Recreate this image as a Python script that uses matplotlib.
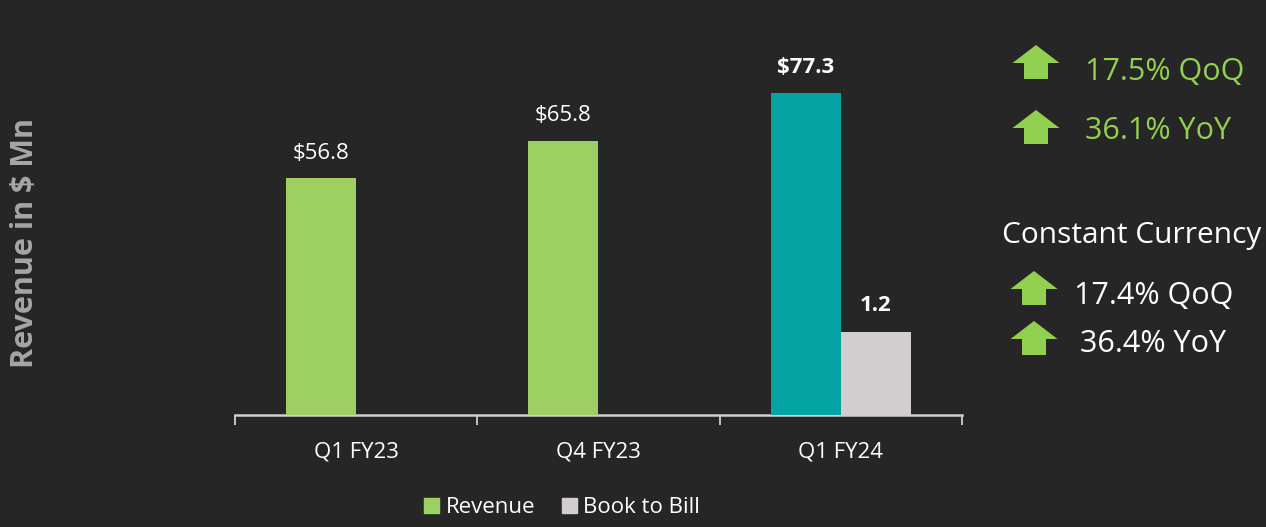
import numpy as np
import matplotlib.pyplot as plt
from matplotlib.patches import Polygon, Patch

plt.rcParams['font.family'] = ['Open Sans', 'DejaVu Sans']

# data
quarters = ['Q1 FY23', 'Q4 FY23', 'Q1 FY24']
revenue = [56.8, 65.8, 77.3]
revenue_labels = ['$56.8', '$65.8', '$77.3']
book_to_bill = [None, None, 1.2]
growth_rows = ['17.5% QoQ', '36.1% YoY']
cc_rows = ['17.4% QoQ', '36.4% YoY']

BG = '#262626'
GREEN = '#9dcf62'
TEAL = '#05a3a3'
GREY = '#d0cecf'
ARROW = '#92d050'
AXIS = '#d0d0d0'

fig = plt.figure(figsize=(12.66, 5.27), dpi=100, facecolor=BG)
W, H = 1266, 527

# main axes in pixel placement
left, right, base, top = 235, 962, 415, 40
ax = fig.add_axes([left / W, (H - base) / H, (right - left) / W, (base - top) / H])
ax.set_facecolor(BG)
ax2 = ax.twinx()

x = np.arange(len(quarters))
w = 0.289
rev_colors = [GREEN, GREEN, TEAL]
rbars = ax.bar(x - w / 2, revenue, width=w, color=rev_colors, zorder=3)
bx = [i for i, v in enumerate(book_to_bill) if v is not None]
bv = [v for v in book_to_bill if v is not None]
bbars = ax2.bar(np.array(bx) + w / 2, bv, width=w, color=GREY, zorder=3)

ax.set_xlim(-0.5, 2.5)
ax.set_ylim(0, 90)
ax2.set_ylim(0, 5.42)

for i, (b, lab) in enumerate(zip(rbars, revenue_labels)):
    bold = i == len(revenue) - 1
    ax.annotate(lab, (b.get_x() + b.get_width() / 2, b.get_height()),
                xytext=(0, 18), textcoords='offset points', ha='center', va='center',
                color='white', fontsize=16, fontweight='bold' if bold else 'normal')
for b, v in zip(bbars, bv):
    ax2.annotate(f'{v:.1f}', (b.get_x() + b.get_width() / 2, b.get_height()),
                 xytext=(0, 19), textcoords='offset points', ha='center', va='center',
                 color='white', fontsize=16, fontweight='bold')

for a in (ax, ax2):
    for s in ('top', 'right', 'left'):
        a.spines[s].set_visible(False)
    a.spines['bottom'].set_color(AXIS)
    a.spines['bottom'].set_linewidth(1.8)
    a.set_yticks([])
ax2.spines['bottom'].set_visible(False)

ax.set_xticks([-0.5, 0.5, 1.5, 2.5])
ax.set_xticklabels([])
ax.set_xticks(x, minor=True)
ax.set_xticklabels(quarters, minor=True)
ax.tick_params(axis='x', which='major', direction='out', length=7, width=1.3, color=AXIS)
ax.tick_params(axis='x', which='minor', length=0, pad=19, labelsize=16, labelcolor='white')
ax2.tick_params(axis='x', length=0, labelbottom=False)

fig.text(25 / W, 1 - 243 / H, 'Revenue in $ Mn', rotation=90, ha='center', va='center',
         color='#a6a6a6', fontsize=22, fontweight='bold')

handles = [Patch(color=GREEN, label='Revenue'), Patch(color=GREY, label='Book to Bill')]
fig.legend(handles=handles, loc='center', bbox_to_anchor=(562 / W, 1 - 507.5 / H), ncol=2,
           frameon=False, fontsize=16, labelcolor='white', handlelength=0.68, handleheight=0.68,
           handletextpad=0.3, columnspacing=1.2, borderpad=0)

# overlay for the growth call-outs
ov = fig.add_axes([0, 0, 1, 1], facecolor='none')
ov.set_xlim(0, W)
ov.set_ylim(H, 0)
ov.axis('off')


def up_arrow(cx, ytop):
    pts = [(cx, ytop), (cx + 23.5, ytop + 18), (cx + 12, ytop + 18), (cx + 12, ytop + 34),
           (cx - 12, ytop + 34), (cx - 12, ytop + 18), (cx - 23.5, ytop + 18)]
    ov.add_patch(Polygon(pts, closed=True, color=ARROW, lw=0))


for (ya, yt), txt in zip([(45, 72), (110, 131)], growth_rows):
    up_arrow(1036, ya)
    ov.text(1085, yt, txt, color=ARROW, fontsize=22, va='center', ha='left')

ov.text(1002, 235, 'Constant Currency', color='white', fontsize=21.5, va='center', ha='left')
for (ya, yt, xt), txt in zip([(271, 296, 1074), (321, 344, 1080)], cc_rows):
    up_arrow(1034, ya)
    ov.text(xt, yt, txt, color='white', fontsize=22, va='center', ha='left')

fig.savefig('out.png', dpi=100, facecolor=BG)
